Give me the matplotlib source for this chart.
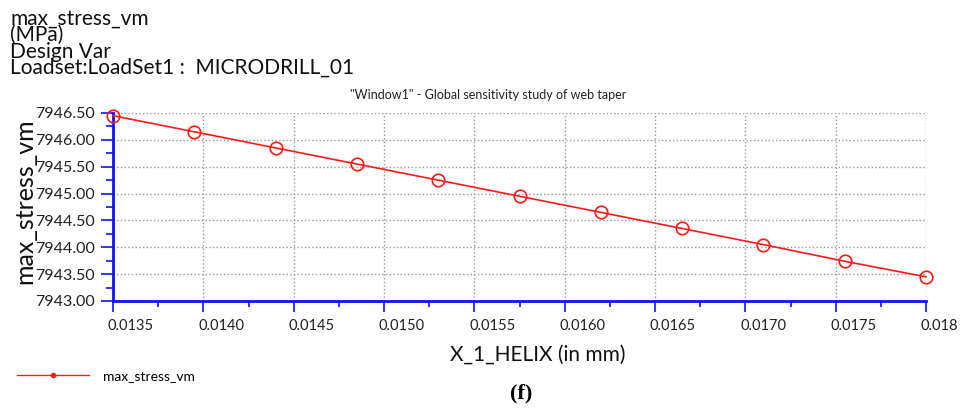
import matplotlib.pyplot as plt
from matplotlib.lines import Line2D
from matplotlib.transforms import ScaledTranslation

# data
helix = [0.0135, 0.01395, 0.0144, 0.01485, 0.0153, 0.01575,
         0.0162, 0.01665, 0.0171, 0.01755, 0.018]
stress = [7946.45, 7946.15, 7945.85, 7945.55, 7945.25, 7944.95,
          7944.65, 7944.35, 7944.05, 7943.74, 7943.45]

x_ticks = [0.0135, 0.0140, 0.0145, 0.0150, 0.0155, 0.0160,
           0.0165, 0.0170, 0.0175, 0.0180]
x_tick_labels = ["0.0135", "0.0140", "0.0145", "0.0150", "0.0155", "0.0160",
                 "0.0165", "0.0170", "0.0175", "0.018"]
y_ticks = [7943.0, 7943.5, 7944.0, 7944.5, 7945.0, 7945.5, 7946.0, 7946.5]

header = ["max_stress_vm", "(MPa)", "Design Var",
          "Loadset:LoadSet1 :  MICRODRILL_01"]

plt.rcParams['font.family'] = ['Lato', 'DejaVu Sans']

W, H = 974, 409
fig = plt.figure(figsize=(W / 100, H / 100), dpi=100)
ax = fig.add_axes([113 / W, 1 - 301 / H, (926 - 113) / W, (301 - 113) / H])

blue = '#1010ff'
red = '#ff1a1a'

ax.plot(helix, stress, color=red, linewidth=1.2, marker='o', markersize=9,
        markerfacecolor='none', markeredgecolor=red, markeredgewidth=1.2,
        clip_on=False, zorder=3)

ax.set_xlim(0.0135, 0.018)
ax.set_ylim(7943.0, 7946.5)
ax.set_xticks(x_ticks)
ax.set_yticks(y_ticks)
ax.set_yticklabels([f"{v:.2f}" for v in y_ticks])
ax.set_xticks([t + 0.00025 for t in x_ticks[:-1]], minor=True)
ax.set_yticks([t + 0.25 for t in y_ticks[:-1]], minor=True)

ax.grid(True, which='major', linestyle=':', color='#999999', linewidth=1)
for s in ['top', 'right']:
    ax.spines[s].set_visible(False)
for s in ['left', 'bottom']:
    ax.spines[s].set_color(blue)
    ax.spines[s].set_linewidth(2)

ax.tick_params(axis='both', which='major', color=blue, width=1.2,
               labelcolor='#222222')
ax.tick_params(axis='x', which='major', length=8, labelbottom=False)
ax.tick_params(axis='y', which='major', length=9, pad=4, labelsize=11.5)
ax.tick_params(axis='x', which='minor', length=4, width=1.2, color=blue)
ax.tick_params(axis='y', which='minor', length=5, width=1.2, color=blue)

# x tick labels start just left of their ticks (left aligned)
lab_tr = ax.get_xaxis_transform() + ScaledTranslation(-5 / 100, -18 / 100,
                                                      fig.dpi_scale_trans)
for t, lab in zip(x_ticks, x_tick_labels):
    ax.text(t, 0, lab, transform=lab_tr, ha='left', va='top',
            fontsize=10.5, color='#222222', clip_on=False)

ax.set_ylabel("max_stress_vm", fontsize=18, color='#111111')
ax.yaxis.set_label_coords(-0.095, 0.53)
ax.set_xlabel("X_1_HELIX (in mm)", fontsize=15, color='#111111')
ax.xaxis.set_label_coords(0.523, -0.23)

fig.text(488 / W, 1 - 95 / H,
         '"Window1" - Global sensitivity study of web taper',
         ha='center', va='center', fontsize=9, color='#222222')

# tightly packed header block, one text object
fig.text(10 / W, 1 - 74 / H, "\n".join(header), ha='left', va='baseline',
         fontsize=15, linespacing=0.78, color='#111111')

handle = Line2D([], [], color=red, linewidth=1, marker='o', markersize=3,
                markerfacecolor=red, markeredgecolor=red)
fig.legend([handle], ["max_stress_vm"], loc='center left',
           bbox_to_anchor=(17 / W, 1 - 376 / H), frameon=False,
           fontsize=10, handlelength=5.2, handletextpad=1.0,
           borderpad=0, borderaxespad=0)

fig.text(521 / W, 1 - 393 / H, "(f)", ha='center', va='center',
         fontsize=16, fontweight='bold', family='Liberation Serif')

fig.savefig("out.png", dpi=100)
